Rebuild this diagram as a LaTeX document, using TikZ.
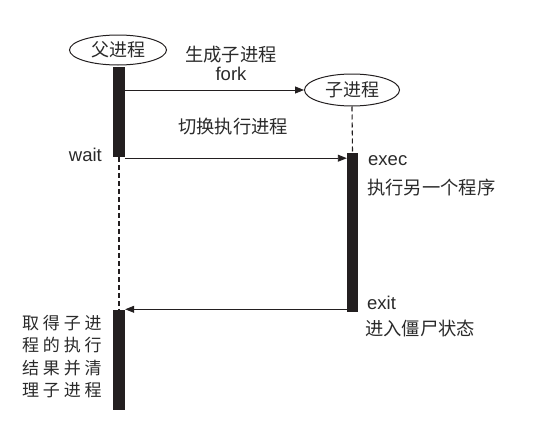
\documentclass[tikz,border=0pt]{standalone}
\usepackage{fontspec}
\setmainfont{Liberation Sans}
\newfontfamily\cjk{Noto Sans CJK SC}
\usetikzlibrary{shapes.geometric,arrows.meta}
\definecolor{ink}{HTML}{231F20}
\definecolor{txt}{HTML}{2A2A2A}
\tikzset{
  proc/.style={ellipse, draw=ink, line width=1pt, inner sep=0pt, font=\cjk\fontsize{18}{20}\selectfont, text=txt},
  bar/.style={fill=ink, draw=none, inner sep=0pt, minimum width=12pt},
  msg/.style={draw=ink, line width=0.9pt, -{Triangle[length=9pt,width=7pt]}},
  life/.style={draw=ink, line width=1.1pt, dash pattern=on 5pt off 3pt},
  zh/.style={font=\cjk\fontsize{18.3}{20}\selectfont, text=txt, inner sep=0pt},
  en/.style={font=\fontsize{18.5}{20}\selectfont, text=txt, inner sep=0pt},
}
\begin{document}
\begin{tikzpicture}[x=1pt,y=-1pt]
\useasboundingbox (0,0) rectangle (549,423);
% lifeline heads
\node[proc, minimum width=97pt, minimum height=30pt] (P) at (118,50) {父进程};
\node[proc, minimum width=95pt, minimum height=32pt] (C) at (352,90) {子进程};
% activation bars
\node[bar, minimum height=90pt] (B1) at (119,112) {};
\node[bar, minimum height=159pt, minimum width=11pt] (B2) at (352.5,232.5) {};
\node[bar, minimum height=100pt] (B3) at (119,360) {};
% dashed lifelines
\draw[life] (C.south) -- (B2.north);
\draw[life] (B1.south) -- (B3.north);
% messages
\coordinate (f0) at (B1.east |- C.west);
\draw[msg] (f0) -- (C.west);
\coordinate (w0) at ([yshift=-1pt]B1.south east);
\coordinate (w1) at (w0 -| B2.west);
\draw[msg] (w0) -- (w1);
\coordinate (e1) at ([yshift=0.5pt]B3.north east);
\coordinate (e0) at (e1 -| B2.west);
\draw[msg] (e0) -- (e1);
% labels
\node[zh] (t1) at (231,55) {生成子进程};
\node[en] (t2) at (231,74) {fork};
\node[zh] (t3) at (233,127) {切换执行进程};
\node[en, anchor=base east] (t4) at (102,161) {wait};
\node[en, anchor=base west] (t5) at (368,165) {exec};
\node[zh, anchor=west] (t6) at (367,188) {执行另一个程序};
\node[en, anchor=base west] (t7) at (367,309) {exit};
\node[zh, anchor=west] (t8) at (365,329) {进入僵尸状态};
\node[zh, anchor=north west, align=left, font=\cjk\fontsize{17}{22.5}\selectfont] (t9) at (22,315)
  {取\hspace{3.8pt}得\hspace{3.8pt}子\hspace{3.8pt}进\\
   程\hspace{3.8pt}的\hspace{3.8pt}执\hspace{3.8pt}行\\
   结\hspace{3.8pt}果\hspace{3.8pt}并\hspace{3.8pt}清\\
   理\hspace{3.8pt}子\hspace{3.8pt}进\hspace{3.8pt}程};
\end{tikzpicture}
\end{document}
